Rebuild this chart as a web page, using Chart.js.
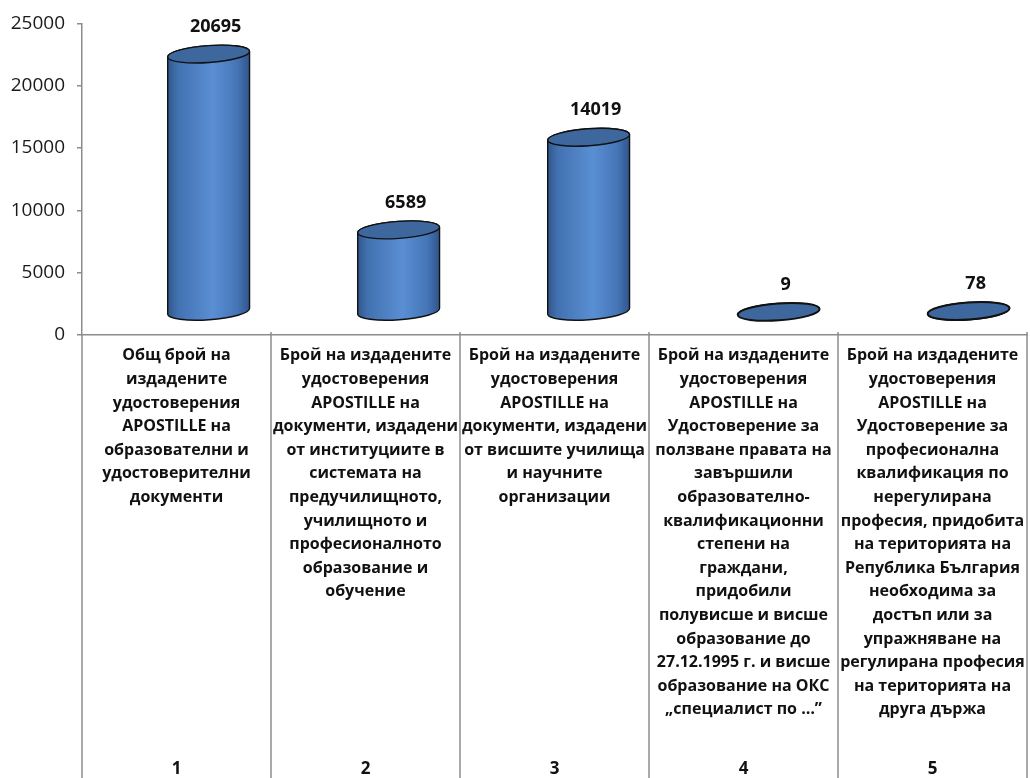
<!DOCTYPE html>
<html>
<head>
<meta charset="utf-8">
<script src="https://cdn.jsdelivr.net/npm/chart.js@4/dist/chart.umd.min.js"></script>
<style>
  html, body { margin: 0; padding: 0; background: #fff; }
  #wrap { width: 1030px; height: 778px; }
</style>
</head>
<body>
<div id="wrap"><canvas id="chart"></canvas></div>
<script>
const categories = [
  ['Общ брой на', 'издадените', 'удостоверения', 'APOSTILLE на', 'образователни и', 'удостоверителни', 'документи'],
  ['Брой на издадените', 'удостоверения', 'APOSTILLE на', 'документи, издадени', 'от институциите в', 'системата на',
   'предучилищното,', 'училищното и', 'професионалното', 'образование и', 'обучение'],
  ['Брой на издадените', 'удостоверения', 'APOSTILLE на', 'документи, издадени', 'от висшите училища', 'и научните', 'организации'],
  ['Брой на издадените', 'удостоверения', 'APOSTILLE на', 'Удостоверение за', 'ползване правата на', 'завършили',
   'образователно-', 'квалификационни', 'степени на', 'граждани,', 'придобили', 'полувисше и висше',
   'образование до', '27.12.1995 г. и висше', 'образование на ОКС', '„специалист по …”'],
  ['Брой на издадените', 'удостоверения', 'APOSTILLE на', 'Удостоверение за', 'професионална', 'квалификация по',
   'нерегулирана', 'професия, придобита', 'на територията на', 'Република България', 'необходима за',
   'достъп или за', 'упражняване на', 'регулирана професия', 'на територията на', 'друга държа']
];
const numbers = ['1', '2', '3', '4', '5'];
const values = [20695, 6589, 14019, 9, 78];
const yTicks = [0, 5000, 10000, 15000, 20000, 25000];

const FONT = 'Open Sans';
const LINE = '#8c8c8c';

// draws each bar as a 3D cylinder, pushed back like the excel floor
const cylinders = {
  id: 'cylinders',
  afterDatasetsDraw(chart) {
    const ctx = chart.ctx;
    const meta = chart.getDatasetMeta(0);
    const step = chart.scales.x.width / values.length;
    meta.data.forEach((bar, i) => {
      const dx = step * 0.17 + i;
      const dy = -23;
      const cx = bar.x + dx;
      const top = bar.y + dy;
      const bottom = bar.base + dy;
      const rx = bar.width / 2;
      const ry = 8.5;
      const rot = -0.07;

      ctx.save();
      const grad = ctx.createLinearGradient(cx - rx, 0, cx + rx, 0);
      grad.addColorStop(0, '#32568a');
      grad.addColorStop(0.12, '#4271b0');
      grad.addColorStop(0.55, '#5a8fd4');
      grad.addColorStop(0.85, '#4575b7');
      grad.addColorStop(1, '#30548a');

      ctx.beginPath();
      ctx.ellipse(cx, bottom, rx, ry, rot, 0, Math.PI, false);
      ctx.lineTo(cx - rx * Math.cos(rot), top - rx * Math.sin(rot));
      ctx.ellipse(cx, top, rx, ry, rot, Math.PI, 2 * Math.PI, false);
      ctx.closePath();
      ctx.fillStyle = grad;
      ctx.fill();
      ctx.lineWidth = 1.4;
      ctx.strokeStyle = '#111';
      ctx.stroke();

      ctx.beginPath();
      ctx.ellipse(cx, top, rx, ry, rot, 0, 2 * Math.PI);
      ctx.fillStyle = '#3e679d';
      ctx.fill();
      ctx.lineWidth = bar.base - bar.y < 3 ? 2 : 1.4;
      ctx.stroke();

      ctx.fillStyle = '#111';
      ctx.font = 'bold 18px "' + FONT + '"';
      ctx.textAlign = 'center';
      ctx.textBaseline = 'middle';
      ctx.fillText(String(values[i]), cx + 7, top - 27);
      ctx.restore();
    });
  }
};

// vertical lines of the data table under the axis
const tableLines = {
  id: 'tableLines',
  afterDraw(chart) {
    const ctx = chart.ctx;
    const xs = chart.scales.x;
    const step = xs.width / values.length;
    const y0 = chart.chartArea.bottom - 3;
    const y1 = chart.height;
    ctx.save();
    ctx.strokeStyle = LINE;
    ctx.lineWidth = 1.5;
    for (let i = 0; i <= values.length; i++) {
      const x = i < values.length ? xs.getPixelForValue(i) - step / 2 : xs.right;
      ctx.beginPath();
      ctx.moveTo(x, i === 0 ? chart.chartArea.bottom : y0);
      ctx.lineTo(x, y1);
      ctx.stroke();
    }
    ctx.restore();
  }
};

new Chart(document.getElementById('chart'), {
  type: 'bar',
  data: {
    labels: categories,
    datasets: [{
      data: values,
      backgroundColor: 'rgba(0,0,0,0)',
      borderWidth: 0,
      categoryPercentage: 1,
      barPercentage: 0.434
    }]
  },
  options: {
    responsive: true,
    maintainAspectRatio: false,
    animation: false,
    layout: { padding: { top: 21, right: 3, left: 0, bottom: 0 } },
    plugins: { legend: { display: false }, tooltip: { enabled: false } },
    scales: {
      y: {
        min: 0,
        max: 25000,
        afterBuildTicks: s => { s.ticks = yTicks.map(v => ({ value: v })); },
        afterFit: s => { s.width = 82; },
        ticks: {
          callback: v => String(v),
          font: { family: FONT, size: 19 }, color: '#1a1a1a', padding: 12
        },
        grid: { drawOnChartArea: false, tickLength: 5, color: LINE, lineWidth: 1.5 },
        border: { color: LINE, width: 1.5 }
      },
      x: {
        weight: 0,
        afterFit: s => { s.height = 410; },
        grid: { display: false },
        border: { color: LINE, width: 1.5 },
        ticks: {
          autoSkip: false, maxRotation: 0, padding: 1, color: '#111',
          font: { family: FONT, size: 16, weight: 'bold', lineHeight: 23.6 / 16 }
        }
      },
      x2: {
        type: 'category',
        labels: numbers,
        position: 'bottom',
        offset: true,
        weight: 1,
        afterFit: s => { s.height = 33; },
        grid: { display: false },
        border: { display: false },
        ticks: { padding: 6, color: '#111', font: { family: FONT, size: 17, weight: 'bold' } }
      }
    }
  },
  plugins: [cylinders, tableLines]
});
</script>
</body>
</html>
